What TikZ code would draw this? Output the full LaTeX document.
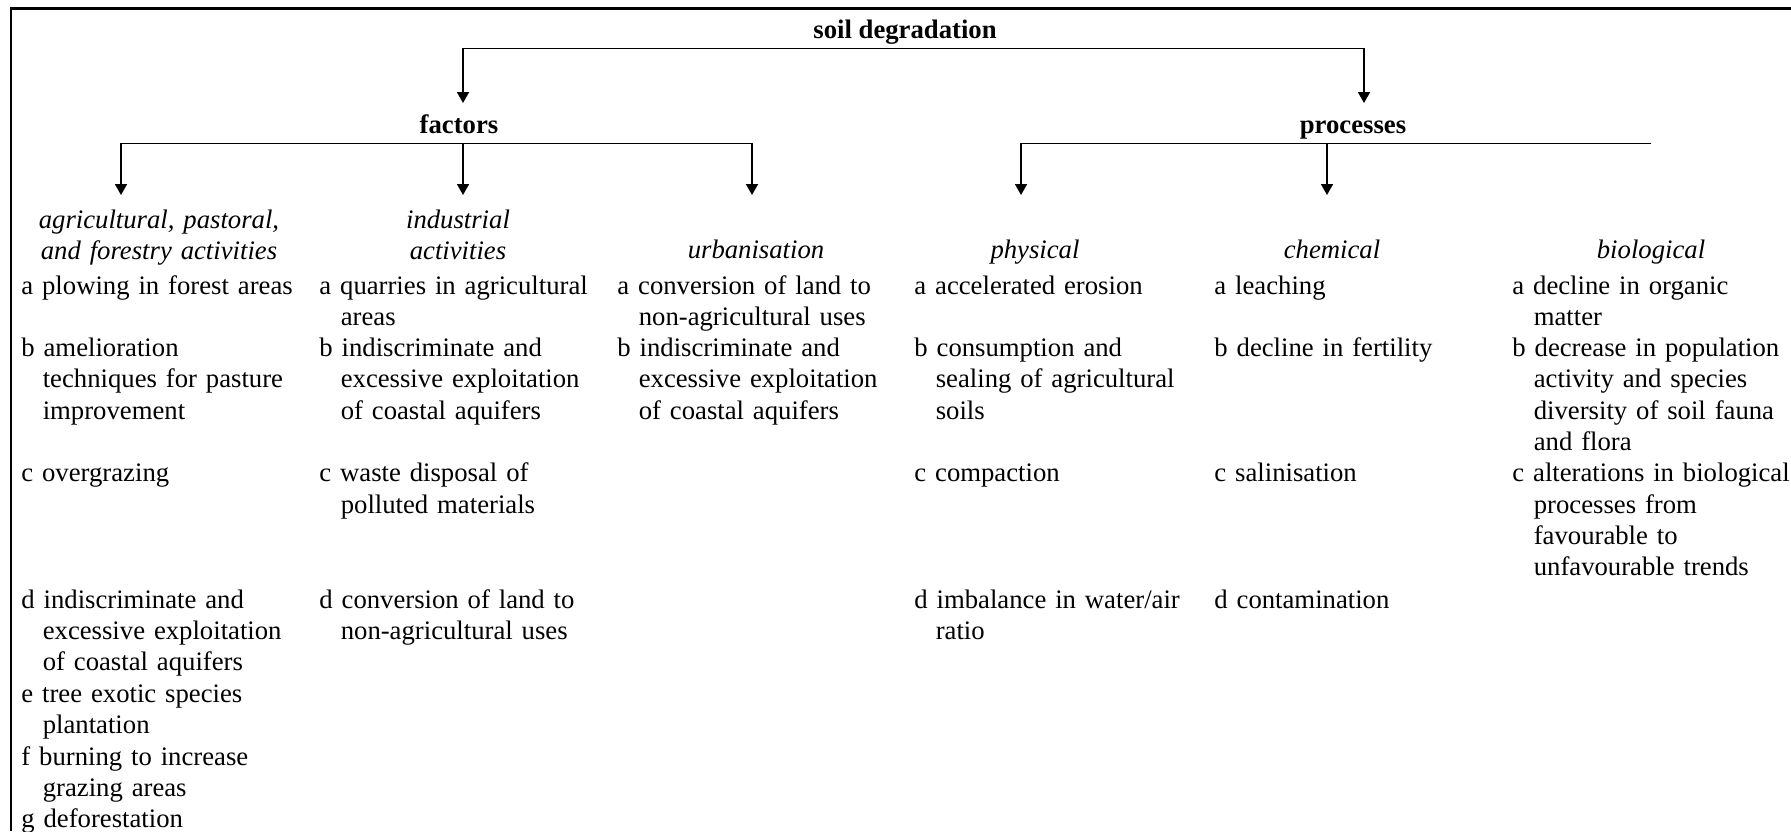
\documentclass[tikz,border=0pt]{standalone}
\usepackage{fontspec}
\setmainfont{Liberation Serif}
\usetikzlibrary{arrows.meta}
\newcommand{\ind}{\hspace*{10.7pt}}

\begin{document}
\begin{tikzpicture}[x=0.5pt, y=-0.5pt,
  every node/.style={font=\fontsize{13.35}{15.65}\selectfont},
  head/.style={font=\fontsize{13.35}{15.65}\selectfont\bfseries, inner sep=0pt, text height=10pt, text depth=5pt, anchor=base},
  cat/.style={font=\fontsize{13.35}{15.65}\selectfont\itshape, text width=150pt, align=center, inner sep=0pt, anchor=base},
  entry/.style={text width=150pt, align=left, inner sep=0pt, anchor=base west},
  link/.style={line width=0.9pt, -{Triangle[width=6pt,length=5.5pt]}},
  bar/.style={line width=0.9pt},
  frame/.style={line width=1.4pt}]
\useasboundingbox (0,0) rectangle (1791,831);
\draw[frame] (11,831) |- (1791,8.5);

% top levels
\node[head] (root) at (905,38) {soil degradation};
\node[head] (factors) at (459,133) {factors};
\node[head] (processes) at (1353,133) {processes};
\coordinate (factors-in) at (463,103);
\coordinate (processes-in) at (1364,103);
\draw[link] (root.south) -| (factors-in);
\draw[link] (root.south) -| (processes-in);

% arrow ends above the categories
\coordinate (agri-in) at (121,195);
\coordinate (indu-in) at (463,195);
\coordinate (urban-in) at (752,195);
\coordinate (phys-in) at (1021,195);
\coordinate (chem-in) at (1327,195);
\coordinate (bio-in) at (1651,195);
\draw[bar] (factors.south -| agri-in) -- (factors.south -| urban-in);
\draw[bar] (processes.south -| phys-in) -- (processes.south -| bio-in);
\foreach \c in {agri,indu,urban}
  \draw[link] (factors.south -| \c-in) -- (\c-in);
\foreach \c in {phys,chem}
  \draw[link] (processes.south -| \c-in) -- (\c-in);

% categories
\node[cat] (agri) at (159,228) {agricultural, pastoral,\\and forestry activities};
\node[cat] (indu) at (458,228) {industrial\\activities};
\node[cat] (urban) at (756,258) {urbanisation};
\node[cat] (phys) at (1035,258) {physical};
\node[cat] (chem) at (1332,258) {chemical};
\node[cat] (bio) at (1651,258) {biological};

% agricultural, pastoral, and forestry activities
\node[entry] (agri-a) at (21,294) {a plowing in forest areas};
\node[entry] (agri-b) at (21,356.6) {b amelioration\\\ind techniques for pasture\\\ind improvement};
\node[entry] (agri-c) at (21,481.8) {c overgrazing};
\node[entry] (agri-d) at (21,608) {d indiscriminate and\\\ind excessive exploitation\\\ind of coastal aquifers};
\node[entry] (agri-e) at (21,702) {e tree exotic species\\\ind plantation};
\node[entry] (agri-f) at (21,765) {f burning to increase\\\ind grazing areas};
\node[entry] (agri-g) at (21,827) {g deforestation};

% industrial activities
\node[entry] (indu-a) at (319,294) {a quarries in agricultural\\\ind areas};
\node[entry] (indu-b) at (319,356.6) {b indiscriminate and\\\ind excessive exploitation\\\ind of coastal aquifers};
\node[entry] (indu-c) at (319,481.8) {c waste disposal of\\\ind polluted materials};
\node[entry] (indu-d) at (319,608) {d conversion of land to\\\ind non-agricultural uses};

% urbanisation
\node[entry] (urban-a) at (617,294) {a conversion of land to\\\ind non-agricultural uses};
\node[entry] (urban-b) at (617,356.6) {b indiscriminate and\\\ind excessive exploitation\\\ind of coastal aquifers};

% physical
\node[entry] (phys-a) at (914,294) {a accelerated erosion};
\node[entry] (phys-b) at (914,356.6) {b consumption and\\\ind sealing of agricultural\\\ind soils};
\node[entry] (phys-c) at (914,481.8) {c compaction};
\node[entry] (phys-d) at (914,608) {d imbalance in water/air\\\ind ratio};

% chemical
\node[entry] (chem-a) at (1214,294) {a leaching};
\node[entry] (chem-b) at (1214,356.6) {b decline in fertility};
\node[entry] (chem-c) at (1214,481.8) {c salinisation};
\node[entry] (chem-d) at (1214,608) {d contamination};

% biological
\node[entry] (bio-a) at (1512,294) {a decline in organic\\\ind matter};
\node[entry] (bio-b) at (1512,356.6) {b decrease in population\\\ind activity and species\\\ind diversity of soil fauna\\\ind and flora};
\node[entry] (bio-c) at (1512,481.8) {c alterations in biological\\\ind processes from\\\ind favourable to\\\ind unfavourable trends};
\end{tikzpicture}
\end{document}
